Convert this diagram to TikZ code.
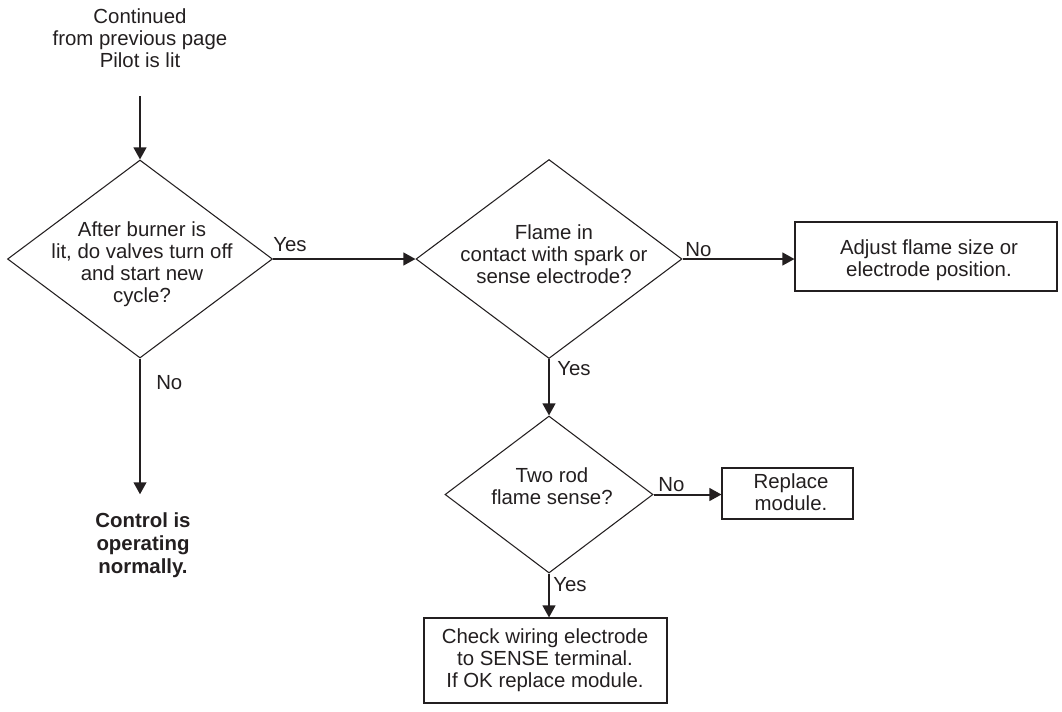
\documentclass[tikz,border=0pt]{standalone}
\usepackage{fontspec}
\setmainfont{Liberation Sans}
\usetikzlibrary{shapes.geometric,arrows.meta}
\definecolor{ink}{HTML}{231F20}
\begin{document}
\begin{tikzpicture}[x=0.75pt,y=-0.75pt,
  txt/.style={font=\fontsize{15.3pt}{16.6pt}\selectfont, text=ink, align=center, inner sep=0pt},
  lbl/.style={font=\fontsize{15.3pt}{16.6pt}\selectfont, text=ink, inner sep=0pt, anchor=base west},
  dia/.style={shape=diamond, draw=ink, line width=0.8pt, inner sep=0pt},
  boxx/.style={draw=ink, line width=0.8pt, inner sep=0pt},
  conn/.style={draw=ink, line width=1.5pt, -{Triangle[length=9pt,width=9.5pt]}}
]
\useasboundingbox (0,0) rectangle (1062,711);

% nodes
\node[txt] (start) at (140,38.5) {Continued\\from previous page\\Pilot is lit};
\node[dia, minimum width=198.75pt, minimum height=148.5pt] (d1) at (140,259) {};
\node[txt] at (142,264) {After burner is\\lit, do valves turn off\\and start new\\cycle?};
\node[dia, minimum width=199.5pt, minimum height=149.25pt] (d2) at (549,259) {};
\node[txt] at (554,254) {Flame in\\contact with spark or\\sense electrode?};
\node[boxx, minimum width=196.5pt, minimum height=51.75pt] (b1) at (926,256.5) {};
\node[txt] at (929,260) {Adjust flame size or\\electrode position.};
\node[dia, minimum width=156pt, minimum height=117.75pt] (d3) at (549,494.5) {};
\node[txt] at (552,486.5) {Two rod\\flame sense?};
\node[boxx, minimum width=98.25pt, minimum height=38.25pt] (b2) at (787.5,493.5) {};
\node[txt] at (791,492) {Replace\\module.};
\node[boxx, minimum width=182.25pt, minimum height=63.75pt] (b3) at (545.5,660.5) {};
\node[txt] at (545,660) {Check wiring electrode\\to SENSE terminal.\\If OK replace module.};
\node[txt, font=\fontsize{15.3pt}{17.2pt}\selectfont\bfseries] (ctrl) at (143,545) {Control is\\operating\\normally.};

% connectors
\draw[conn, shorten <=21pt] (start.south) -- (d1.north);
\draw[conn] (d1.east) -- (d2.west);
\draw[conn] (d2.east) -- (d2.east -| b1.west);
\draw[conn] (d2.south) -- (d3.north);
\draw[conn] (d3.east) -- (d3.east -| b2.west);
\draw[conn] (d3.south) -- (d3.south |- b3.north);
\draw[conn, shorten >=13.5pt] (d1.south) -- (d1.south |- ctrl.north);

% labels
\node[lbl] at (273,251) {Yes};
\node[lbl] at (685,256) {No};
\node[lbl] at (557,375) {Yes};
\node[lbl] at (658,491) {No};
\node[lbl] at (553,591) {Yes};
\node[lbl] at (156,389) {No};
\end{tikzpicture}
\end{document}
